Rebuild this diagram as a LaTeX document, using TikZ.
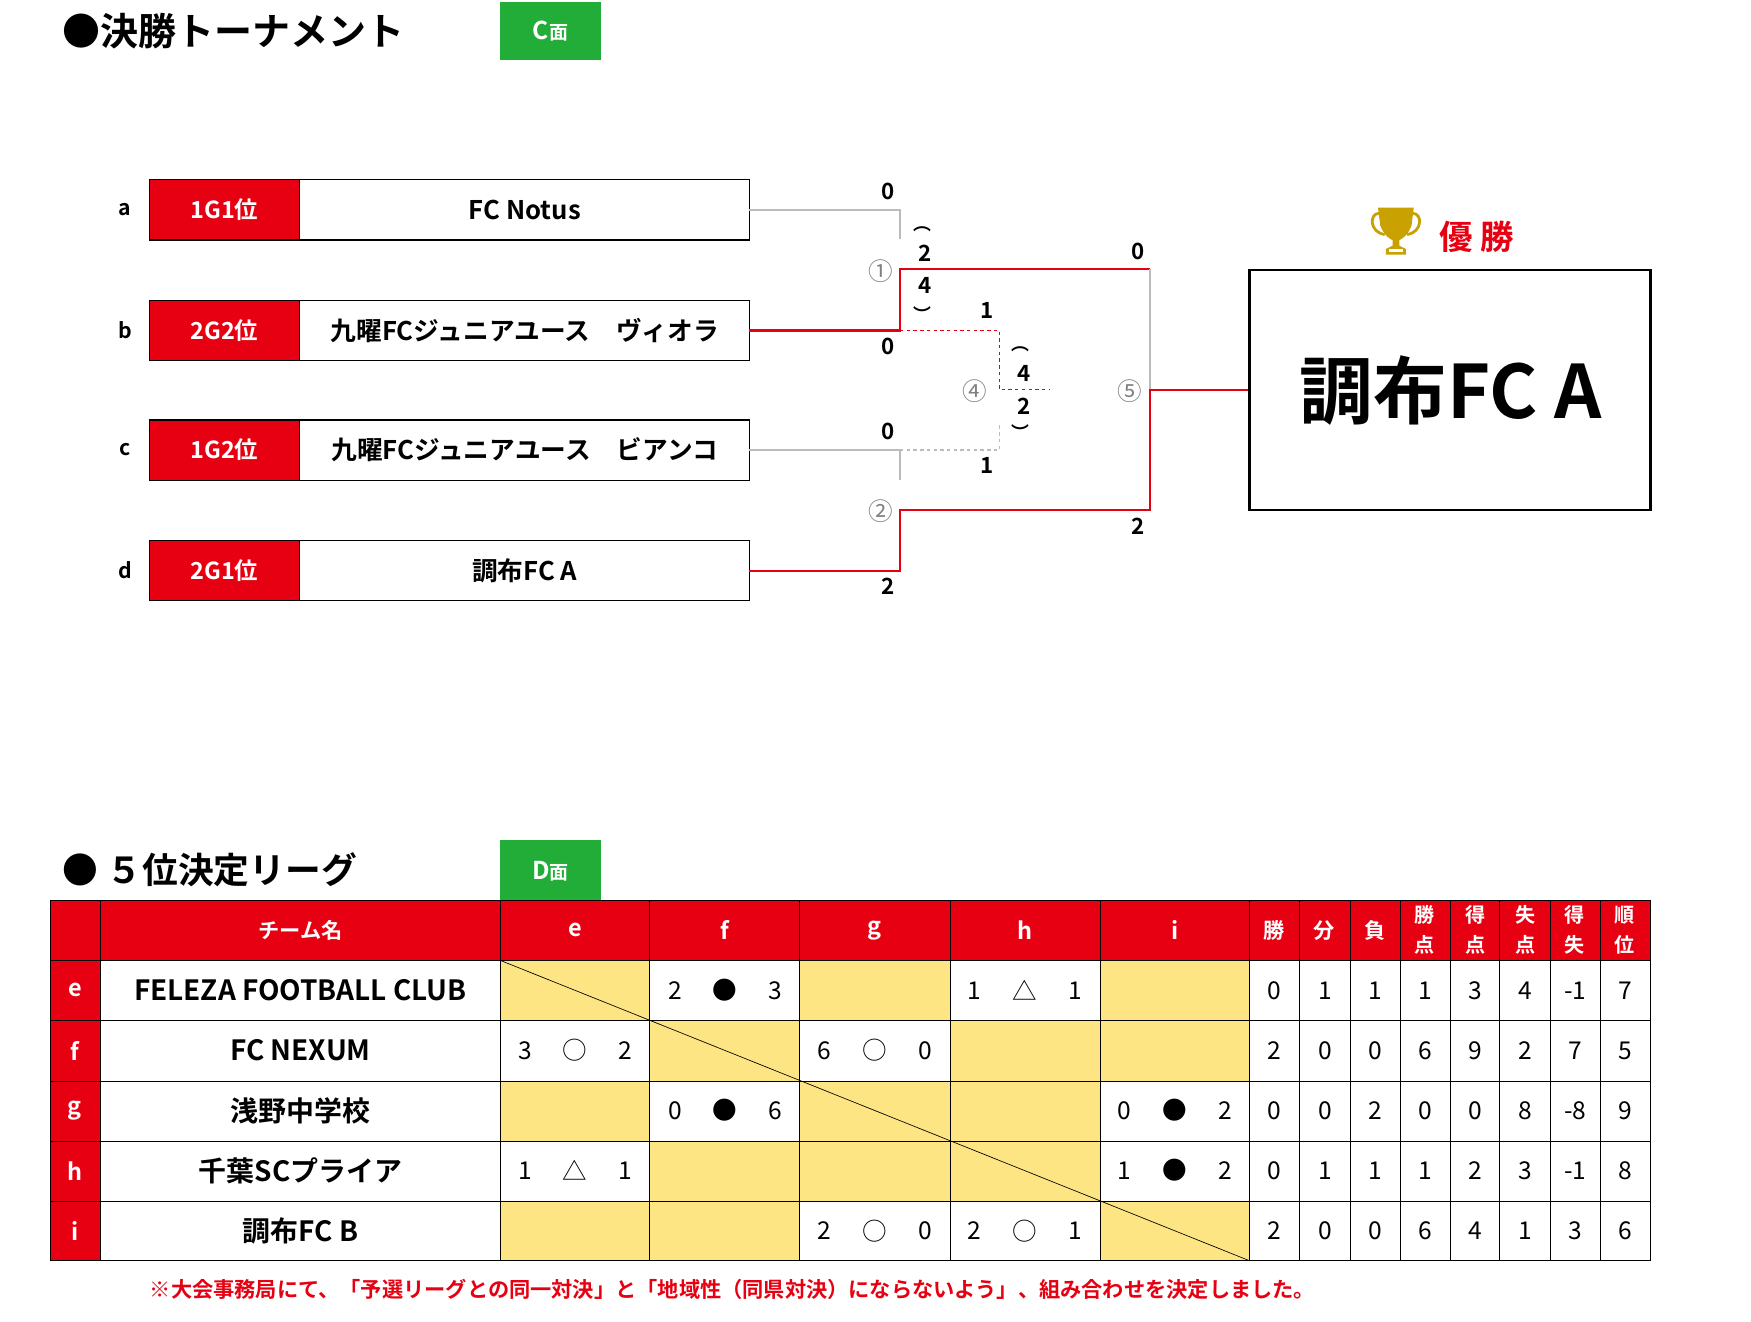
\documentclass[tikz,border=0pt]{standalone}
\usepackage{fontspec}
\setmainfont{Noto Sans CJK JP}[BoldFont={* Bold}]
\newfontfamily\jpb{Noto Sans CJK JP Bold}
\newfontfamily\jpr{Noto Sans CJK JP}
\definecolor{myred}{HTML}{E60012}
\definecolor{mygreen}{HTML}{22AC38}
\definecolor{myyel}{HTML}{FDE584}
\definecolor{mygray}{HTML}{BBBBBB}
\definecolor{gold}{HTML}{C9A100}
\tikzset{
 lbl/.style={font=\jpb\fontsize{21}{21}\selectfont,inner sep=0pt},
 sc/.style={font=\jpb\fontsize{20}{20}\selectfont,inner sep=0pt},
 circ/.style={font=\jpr\fontsize{22}{22}\selectfont,text=gray,inner sep=0pt},
 win/.style={myred,line width=2pt},
 lose/.style={mygray,line width=2pt},
 cell/.style={draw=black,line width=0.8pt},
 tx/.style={inner sep=0pt,font=\jpr\fontsize{22}{22}\selectfont},
 hd/.style={inner sep=0pt,text=white,font=\jpb\fontsize{19}{21}\selectfont,align=center},
}
\begin{document}
\begin{tikzpicture}[x=1pt,y=-1pt]
\useasboundingbox[fill=white] (0,0) rectangle (1568,1183);
% titles
\node[anchor=west,inner sep=0pt,font=\jpb\fontsize{34}{34}\selectfont] (t1) at (56,28) {●決勝トーナメント};
\fill[mygreen] (448,2) rectangle (538,54);
\node[text=white,font=\jpb\fontsize{22}{22}\selectfont] (c) at (493,28) {C\fontsize{17}{17}\selectfont 面};
% team boxes
\foreach \y/\l/\s/\t [count=\i] in {188/a/1G1位/FC Notus,296/b/2G2位/九曜FCジュニアユース　ヴィオラ,403/c/1G2位/九曜FCジュニアユース　ビアンコ,511/d/2G1位/調布FC A}{
 \fill[myred] (134,\y-27) rectangle (268,\y+27);
 \draw[line width=1.2pt] (134,\y-27) rectangle (671,\y+27);
 \draw[line width=1.2pt] (268,\y-27) -- (268,\y+27);
 \node[lbl,font=\jpb\fontsize{19}{19}\selectfont] (L\l) at (112,\y) {\l};
 \node[lbl,text=white] (S\l) at (201,\y) {\s};
 \node[lbl,font=\jpb\fontsize{23}{23}\selectfont] (T\l) at (470,\y) {\t};
 \coordinate (E\l) at (671,\y);
}
% bracket
\coordinate (m1) at (806,241); \coordinate (m2) at (806,457);
\coordinate (f) at (1030,349); \coordinate (W) at (1118,349);
\draw[lose] (Ea) -- (806,188) -- (806,214);
\draw[win] (Eb) -- (806,296) -- (m1) -- (1030,241);
\draw[lose] (1030,241) -- (f);
\draw[win] (Ed) -- (806,511) -- (m2) -- (1030,457) -- (f) -- (W);
\draw[lose] (Ec) -- (806,403) -- (806,430);
\draw[myred,line width=1.3pt,dashed] (806,296) -- (895,296) -- (895,349) -- (940,349);
\draw[mygray,line width=1.3pt,dashed] (806,403) -- (895,403) -- (895,378);
% scores
\node[sc] (s1) at (795,171) {0};
\node[sc] (s2) at (795,310) {0};
\node[sc] (s3) at (795,386) {0};
\node[sc] (s4) at (795,525) {2};
\node[sc] (s5) at (828,227) {2};
\node[sc] (s6) at (828,256) {4};
\node[sc,font=\jpb\fontsize{16}{16}\selectfont] (p1) at (826,205) {︵};
\node[sc,font=\jpb\fontsize{16}{16}\selectfont] (p2) at (826,281) {︶};
\node[sc] (s7) at (884,278) {1};
\node[sc] (s8) at (884,417) {1};
\node[sc] (s9) at (917,334) {4};
\node[sc] (s10) at (917,364) {2};
\node[sc,font=\jpb\fontsize{16}{16}\selectfont] (p3) at (914,313) {︵};
\node[sc,font=\jpb\fontsize{16}{16}\selectfont] (p4) at (914,387) {︶};
\node[sc] (s11) at (1019,225) {0};
\node[sc] (s12) at (1019,471) {2};
\node[circ] (c1) at (789,243) {①};
\node[circ] (c2) at (789,458) {②};
\node[circ] (c4) at (873,350) {④};
\node[circ] (c5) at (1012,350) {⑤};
% winner
\draw[line width=2pt] (1119,242) rectangle (1478,457);
\node[inner sep=0pt,font=\jpb\fontsize{66}{66}\selectfont] (champ) at (1299,350) {調布FC A};
\node[inner sep=0pt,text=myred,font=\jpb\fontsize{30}{30}\selectfont] (yu) at (1322,212) {優 勝};
% trophy
\begin{scope}[shift={(1250,206)}]
\fill[gold] (-16,-20) -- (16,-20) -- (14,-4) .. controls (10,6) and (5,8) .. (3,9) -- (3,14) -- (9,17) -- (9,22) -- (-9,22) -- (-9,17) -- (-3,14) -- (-3,9) .. controls (-5,8) and (-10,6) .. (-14,-4) -- cycle;
\draw[gold,line width=2.5pt] (-15,-15) .. controls (-24,-15) and (-24,2) .. (-10,4);
\draw[gold,line width=2.5pt] (15,-15) .. controls (24,-15) and (24,2) .. (10,4);
\fill[white] (-6,17) rectangle (6,20);
\end{scope}
% league
\node[anchor=west,inner sep=0pt,font=\jpb\fontsize{32}{32}\selectfont] (t2) at (56,779) {● ５位決定リーグ};
\fill[mygreen] (448,752) rectangle (538,806);
\node[text=white,font=\jpb\fontsize{22}{22}\selectfont] (dd) at (493,780) {D\fontsize{17}{17}\selectfont 面};
% header
\fill[myred] (45,806) rectangle (1478,860);
\fill[myred] (45,860) rectangle (90,1129);
% yellow cells
\foreach \c/\r in {0/0,2/0,4/0,1/1,3/1,4/1,0/2,2/2,3/2,1/3,2/3,3/3,0/4,1/4,4/4}{
 \fill[myyel] ({448+\c*134.2},{860+\r*53.8}) rectangle ({448+(\c+1)*134.2},{860+(\r+1)*53.8});
}
% grid
\foreach \x in {45,90,448,582,716,851,985,1119,1164,1209,1254,1299,1343,1388,1433,1478}{
 \draw[cell] (\x,806) -- (\x,1129);}
\foreach \y in {806,860,914,968,1022,1076,1129}{
 \draw[cell] (45,\y) -- (1478,\y);}
\draw[line width=0.6pt] (448,860) -- (1119,1129);
% header texts
\node[hd] (hn) at (269,833) {チーム名};
\foreach \n/\x in {e/515,f/649,g/783,h/918,i/1052}{\node[hd,font=\jpb\fontsize{21}{21}\selectfont] (h\n) at (\x,833) {\n};}
\foreach \n/\x/\t in {1/1141/勝,2/1186/分,3/1231/負}{\node[hd] (hs\n) at (\x,833) {\t};}
\foreach \n/\x/\t in {4/1276/勝\\点,5/1321/得\\点,6/1366/失\\点,7/1410/得\\失,8/1455/順\\位}{\node[hd,font=\jpb\fontsize{18}{27}\selectfont] (hs\n) at (\x,833) {\t};}
% rows
\foreach \r/\l/\nm/\st [count=\i] in {
 e/e/FELEZA FOOTBALL CLUB/{0,1,1,1,3,4,-1,7},
 f/f/FC NEXUM/{2,0,0,6,9,2,7,5},
 g/g/浅野中学校/{0,0,2,0,0,8,-8,9},
 h/h/千葉SCプライア/{0,1,1,1,2,3,-1,8},
 i/i/調布FC B/{2,0,0,6,4,1,3,6}}{
 \pgfmathsetmacro\yy{860+(\i-0.5)*53.8}
 \node[hd,font=\jpb\fontsize{21}{21}\selectfont] (r\r) at (67,\yy) {\l};
 \node[inner sep=0pt,font=\jpb\fontsize{25}{25}\selectfont] (n\r) at (269,\yy) {\nm};
 \foreach \v [count=\k] in \st {
  \pgfmathsetmacro\xx{1119+(\k-0.5)*44.9}
  \node[tx] (v\r\k) at (\xx,\yy) {\v};}
}
% match scores
\foreach \c/\r/\a/\s/\b [count=\j] in {1/0/2/●/3,3/0/1/△/1,0/1/3/○/2,2/1/6/○/0,1/2/0/●/6,4/2/0/●/2,0/3/1/△/1,4/3/1/●/2,2/4/2/○/0,3/4/2/○/1}{
 \pgfmathsetmacro\xx{448+(\c+0.5)*134.2}
 \pgfmathsetmacro\yy{860+(\r+0.5)*53.8}
 \node[tx] (ma\j) at (\xx-45,\yy) {\a};
 \node[tx] (ms\j) at (\xx,\yy) {\s};
 \node[tx] (mb\j) at (\xx+45,\yy) {\b};
}
\node[anchor=west,inner sep=0pt,text=myred,font=\jpb\fontsize{19}{19}\selectfont] (note) at (134,1155) {※大会事務局にて、「予選リーグとの同一対決」と「地域性（同県対決）にならないよう」、組み合わせを決定しました。};
\end{tikzpicture}
\end{document}
